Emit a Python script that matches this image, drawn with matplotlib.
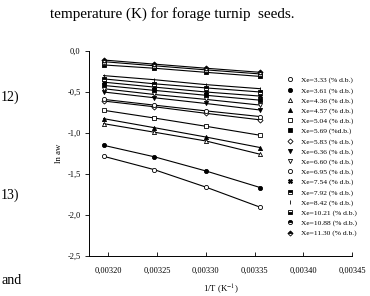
import matplotlib
matplotlib.use("Agg")
import matplotlib.pyplot as plt
from matplotlib.lines import Line2D

plt.rcParams['font.family'] = ['Liberation Serif', 'DejaVu Serif']
plt.rcParams['mathtext.fontset'] = 'stix'

# 1/T for the four temperatures (K^-1)
inv_t = [0.003195, 0.003247, 0.003300, 0.003356]

# moisture contents (% d.b.) and ln aw values
xe_labels = ["Xe=3.33 (% d.b.)", "Xe=3.61 (% d.b.)", "Xe=4.36 (% d.b.)",
             "Xe=4.57 (% d.b.)", "Xe=5.04 (% d.b.)", "Xe=5.69 (%d.b.)",
             "Xe=5.83 (% d.b.)", "Xe=6.36 (% d.b.)", "Xe=6.60 (% d.b.)",
             "Xe=6.95 (% d.b.)", "Xe=7.54 (% d.b.)", "Xe=7.92 (% d.b.)",
             "Xe=8.42 (% d.b.)", "Xe=10.21 (% d.b.)", "Xe=10.88 (% d.b.)",
             "Xe=11.30 (% d.b.)"]

ln_aw_333 = [-1.284, -1.447, -1.660, -1.906]
ln_aw_361 = [-1.150, -1.290, -1.463, -1.666]
ln_aw_436 = [-0.886, -0.990, -1.097, -1.260]
ln_aw_457 = [-0.825, -0.935, -1.049, -1.178]
ln_aw_504 = [-0.723, -0.817, -0.918, -1.028]
ln_aw_569 = [-0.420, -0.480, -0.540, -0.600]
ln_aw_583 = [-0.610, -0.680, -0.760, -0.840]
ln_aw_636 = [-0.500, -0.570, -0.640, -0.720]
ln_aw_660 = [-0.460, -0.530, -0.590, -0.660]
ln_aw_695 = [-0.590, -0.660, -0.730, -0.800]
ln_aw_754 = [-0.380, -0.440, -0.500, -0.550]
ln_aw_792 = [-0.340, -0.400, -0.450, -0.500]
ln_aw_842 = [-0.300, -0.350, -0.410, -0.460]
ln_aw_1021 = [-0.170, -0.210, -0.260, -0.310]
ln_aw_1088 = [-0.130, -0.180, -0.230, -0.280]
ln_aw_1130 = [-0.110, -0.160, -0.210, -0.260]

series = [ln_aw_333, ln_aw_361, ln_aw_436, ln_aw_457, ln_aw_504, ln_aw_569,
          ln_aw_583, ln_aw_636, ln_aw_660, ln_aw_695, ln_aw_754, ln_aw_792,
          ln_aw_842, ln_aw_1021, ln_aw_1088, ln_aw_1130]

# estilo de marcador para cada serie: (marker, fillstyle, facecolor)
estilos = [('o', 'full', 'white'), ('o', 'full', 'black'), ('^', 'full', 'white'),
           ('^', 'full', 'black'), ('s', 'full', 'white'), ('s', 'full', 'black'),
           ('D', 'full', 'white'), ('v', 'full', 'black'), ('v', 'full', 'white'),
           ('o', 'full', 'white'), ('X', 'full', 'black'), ('s', 'top', 'black'),
           ('|', 'full', 'black'), ('s', 'bottom', 'black'), ('o', 'top', 'black'),
           ('D', 'top', 'black')]

fig = plt.figure(figsize=(3.70, 2.96), dpi=100)
ax = fig.add_axes([0.2405, 0.1351, 0.7109, 0.6926])

handles = []
for vals, lab, (mk, fs, fc) in zip(series, xe_labels, estilos):
    ms = 3.0 if mk not in ('D',) else 2.6
    ax.plot(inv_t, vals, color='black', lw=0.8, marker=mk, ms=ms,
            mfc=fc, mec='black', mew=0.6, fillstyle=fs, mfcalt='white')
    handles.append(Line2D([0], [0], linestyle='none', marker=mk, ms=ms, mfc=fc,
                          mec='black', mew=0.6, fillstyle=fs, mfcalt='white',
                          color='black', label=lab))

ax.set_xlim(0.00318, 0.00345)
ax.set_ylim(-2.5, 0.0)
ax.set_xticks([0.00320, 0.00325, 0.00330, 0.00335, 0.00340, 0.00345])
ax.set_xticklabels(["0,00320", "0,00325", "0,00330", "0,00335", "0,00340", "0,00345"])
ax.set_yticks([0.0, -0.5, -1.0, -1.5, -2.0, -2.5])
ax.set_yticklabels(["0,0", "-0,5", "-1,0", "-1,5", "-2,0", "-2,5"])
ax.tick_params(axis='x', direction='in', length=3, width=0.6, labelsize=6, pad=8)
ax.tick_params(axis='y', direction='out', length=3, width=0.6, labelsize=6, pad=3)
for s in ['top', 'right']:
    ax.spines[s].set_visible(False)
for s in ['left', 'bottom']:
    ax.spines[s].set_linewidth(0.7)

ax.set_xlabel("1/T (K$^{-1}$)", fontsize=6.3, labelpad=5)
ax.set_ylabel("ln aw", fontsize=6.3, labelpad=3)

ax.legend(handles=handles, loc='upper left', bbox_to_anchor=(282 / 370, 1 - 73 / 296),
          bbox_transform=fig.transFigure, frameon=False, fontsize=5.4,
          handlelength=1.0, handletextpad=1.0, labelspacing=0.48, borderpad=0)

# texto de la página recortada
fig.text(50 / 370, 1 - 14 / 296, "temperature (K) for forage turnip  seeds.",
         fontsize=10.9, va='center', ha='left')
fig.text(1 / 370, 1 - 97 / 296, "12)", fontsize=10, va='center', ha='left')
fig.text(1 / 370, 1 - 195 / 296, "13)", fontsize=10, va='center', ha='left')
fig.text(1 / 370, 1 - 281 / 296, "and", fontsize=10, va='center', ha='left')

fig.savefig("out.png", dpi=100)
